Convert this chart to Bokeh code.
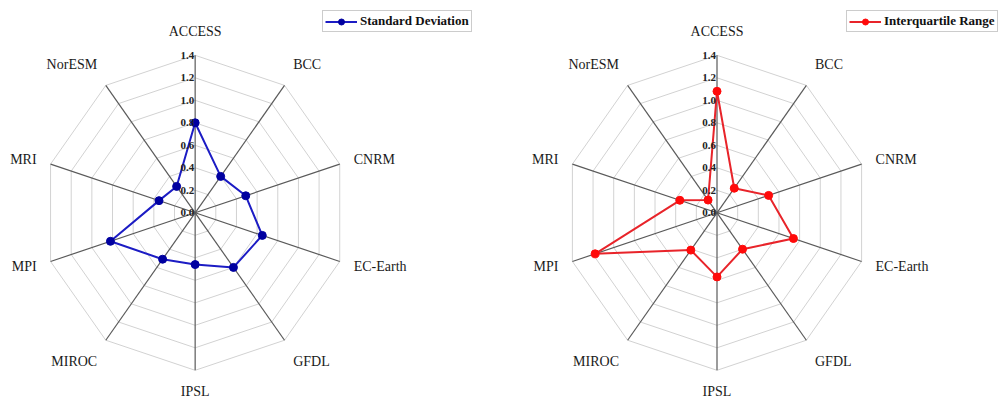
import numpy as np
from bokeh.plotting import figure
from bokeh.models import Range1d, Legend, LegendItem, Label
from bokeh.layouts import row
from bokeh.embed import file_html
from bokeh.resources import INLINE

# Climate models on the radar spokes, clockwise from the top
models = ["ACCESS", "BCC", "CNRM", "EC-Earth", "GFDL",
          "IPSL", "MIROC", "MPI", "MRI", "NorESM"]

# Spread statistics per model
std_dev = [0.80, 0.40, 0.49, 0.65, 0.60, 0.46, 0.51, 0.82, 0.35, 0.29]
iqr = [1.08, 0.27, 0.50, 0.74, 0.40, 0.57, 0.41, 1.18, 0.36, 0.14]

# Radial scale
ring_levels = [0.2, 0.4, 0.6, 0.8, 1.0, 1.2, 1.4]
tick_values = [0.0, 0.2, 0.4, 0.6, 0.8, 1.0, 1.2, 1.4]
tick_labels = ["0.0", "0.2", "0.4", "0.6", "0.8", "1.0", "1.2", "1.4"]
r_max = 1.4
label_radius = 1.535

# pixels per data unit along each screen axis
KX = 108.6
KY = 112.5
H = 399
SERIF = "Liberation Serif"


def radar(width, cx, cy, vals, marker_color, line_color, name, legend_x):
    p = figure(width=width, height=H,
               x_range=Range1d(-cx / KX, (width - cx) / KX),
               y_range=Range1d(-(H - cy) / KY, cy / KY),
               output_backend="svg", toolbar_location=None, min_border=0)
    p.axis.visible = False
    p.grid.visible = False
    p.outline_line_color = None
    p.background_fill_color = "white"
    p.border_fill_color = "white"

    n = len(models)
    ang = np.arange(n) * 2 * np.pi / n
    sx, sy = np.sin(ang), np.cos(ang)

    # decagonal grid rings
    ring_xs = [list(r * sx) + [r * sx[0]] for r in ring_levels]
    ring_ys = [list(r * sy) + [r * sy[0]] for r in ring_levels]
    p.multi_line(ring_xs, ring_ys, line_color="#d2d2d2", line_width=1)

    # spokes
    p.segment(x0=[0.0] * n, y0=[0.0] * n, x1=list(r_max * sx), y1=list(r_max * sy),
              line_color="#5a5a5a", line_width=1.2)

    # radial tick labels along the top spoke
    for tv, tl in zip(tick_values, tick_labels):
        p.add_layout(Label(x=0.0, y=tv, text=tl, x_offset=-1,
                           text_align="right", text_baseline="middle",
                           text_font=SERIF, text_font_style="bold",
                           text_font_size="11px", text_color="#222222"))

    # model names around the outside
    for i, m in enumerate(models):
        s = sx[i]
        c = sy[i]
        if abs(s) < 1e-6:
            align = "center"
        elif s > 0:
            align = "left"
        else:
            align = "right"
        if c > 0.5:
            yoff = 8.5
        elif c < -0.99:
            yoff = -6.5
        elif c < -0.5:
            yoff = -8.5
        else:
            yoff = 0
        p.add_layout(Label(x=label_radius * s, y=label_radius * c, text=m,
                           y_offset=yoff, text_align=align,
                           text_baseline="middle", text_font=SERIF,
                           text_font_size="14px", text_color="#1a1a1a"))

    # data polygon
    v = np.array(vals)
    px = list(v * sx) + [v[0] * sx[0]]
    py = list(v * sy) + [v[0] * sy[0]]
    ln = p.line(px, py, line_color=line_color, line_width=2)
    mk = p.scatter(list(v * sx), list(v * sy), size=8, marker="circle",
                   fill_color=marker_color, line_color=marker_color)

    leg = Legend(items=[LegendItem(label=name, renderers=[ln, mk])],
                 location=(legend_x, 367), margin=0, padding=2, spacing=0,
                 glyph_width=32, glyph_height=15, label_height=15,
                 label_standoff=3, label_text_font=SERIF,
                 label_text_font_style="bold", label_text_font_size="13px",
                 label_text_color="#111111", border_line_color="#9a9a9a",
                 border_line_width=1, background_fill_alpha=1.0)
    p.add_layout(leg)
    return p


left = radar(500, 194.65, 212.3, std_dev, "#0000a0", "#1c1cc4",
             "Standard Deviation", 322)
right = radar(499, 216.5, 212.3, iqr, "#ff0a0a", "#e8242a",
              "Interquartile Range", 346)

layout = row(left, right, spacing=0)
open("out.html", "w").write(file_html(layout, INLINE))
